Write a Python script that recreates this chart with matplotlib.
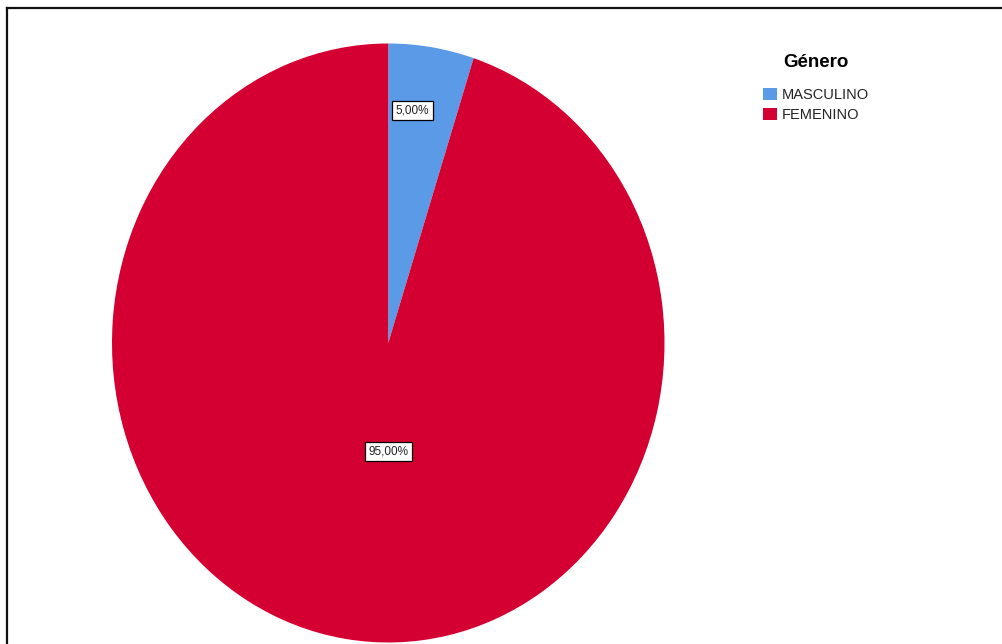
import matplotlib
matplotlib.use("Agg")
import matplotlib.pyplot as plt
from matplotlib.patches import Patch
from matplotlib.lines import Line2D

categories = ["MASCULINO", "FEMENINO"]
percentages = [5.0, 95.0]
colors = ["#5A9AE6", "#D50032"]
legend_title = "Género"

W, H = 1003, 644
fig = plt.figure(figsize=(W / 100, H / 100), dpi=100)
fig.patch.set_facecolor("white")

# pie area in pixels (slightly elliptical like the original)
left, right, top, bottom = 112, 664.5, 43.5, 642.5
ax = fig.add_axes([left / W, 1 - bottom / H, (right - left) / W, (bottom - top) / H])
wedges, texts, autotexts = ax.pie(
    percentages, colors=colors, startangle=90, counterclock=False,
    autopct=lambda p: f"{p:.2f}%".replace(".", ","),
    wedgeprops=dict(linewidth=0),
    textprops=dict(family="Liberation Sans", fontsize=8.5, color="#222222"),
)
ax.set_aspect("auto")
ax.set_xlim(-1, 1)
ax.set_ylim(-1, 1)
ax.axis("off")

label_pos = [(0.088, 0.775), (0.0, -0.362)]
for t, pos in zip(autotexts, label_pos):
    t.set_position(pos)
    t.set_ha("center")
    t.set_va("center")
    t.set_bbox(dict(boxstyle="square,pad=0.3", facecolor="white", edgecolor="black", linewidth=0.9))

handles = [Patch(facecolor=c, edgecolor="none") for c in colors]
leg = fig.legend(
    handles, categories, title=legend_title, loc="upper left",
    bbox_to_anchor=(763 / W, 1 - 54 / H), frameon=False,
    prop=dict(family="Liberation Sans", size=10.5),
    title_fontproperties=dict(family="Liberation Sans", size=13.5, weight="bold"),
    handlelength=0.95, handleheight=0.95, handletextpad=0.35, labelspacing=0.4,
    borderpad=0, borderaxespad=0,
)
leg._legend_box.sep = 12
for t in leg.get_texts():
    t.set_color("#222222")

# outer frame (partially visible)
fig.add_artist(Line2D([7 / W, 7 / W], [0, 1 - 7.5 / H], transform=fig.transFigure,
                      color="#111111", linewidth=1.6, solid_capstyle="projecting"))
fig.add_artist(Line2D([7 / W, 1], [1 - 7.5 / H, 1 - 7.5 / H], transform=fig.transFigure,
                      color="#111111", linewidth=1.6, solid_capstyle="projecting"))

fig.savefig("out.png", dpi=100, facecolor="white")
